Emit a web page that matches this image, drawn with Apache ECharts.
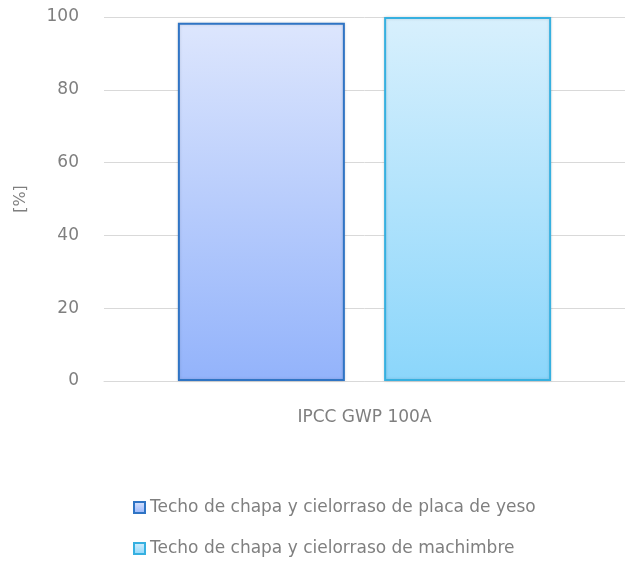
<!DOCTYPE html>
<html>
<head>
<meta charset="utf-8">
<script src="https://cdn.jsdelivr.net/npm/echarts@6/dist/echarts.min.js"></script>
<style>
  html, body { margin: 0; padding: 0; background: #fff; }
  #chart { width: 625px; height: 562px; }
</style>
</head>
<body>
<div id="chart"></div>
<script>
var categories = ["IPCC GWP 100A"];
var seriesNames = [
  "Techo de chapa y cielorraso de placa de yeso",
  "Techo de chapa y cielorraso de machimbre"
];
var placaValues = [98.4];
var machimbreValues = [100];
var yTicks = [0, 20, 40, 60, 80, 100];

var myChart = echarts.init(document.getElementById("chart"));

function grad(top, bottom) {
  return new echarts.graphic.LinearGradient(0, 0, 0, 1, [
    { offset: 0, color: top },
    { offset: 1, color: bottom }
  ]);
}

myChart.setOption({
  animation: false,
  textStyle: { fontFamily: "DejaVu Sans" },
  grid: { left: 104, top: 17, width: 527, bottom: 181 },
  legend: {
    orient: "vertical",
    left: 128,
    top: 494,
    height: 68,
    itemWidth: 11,
    itemHeight: 11,
    itemGap: 24,
    icon: "rect",
    textStyle: { color: "#7f7f7f", fontSize: 17 },
    data: seriesNames
  },
  xAxis: {
    type: "category",
    data: categories,
    axisLine: { lineStyle: { color: "#d9d9d9", width: 1 } },
    axisTick: { show: false },
    axisLabel: { color: "#7f7f7f", fontSize: 17, margin: 28 }
  },
  yAxis: {
    type: "value",
    min: yTicks[0],
    max: yTicks[yTicks.length - 1],
    interval: 20,
    name: "[%]",
    nameLocation: "middle",
    nameGap: 75,
    nameTextStyle: { color: "#7f7f7f", fontSize: 16 },
    axisLine: { show: false },
    axisTick: { show: false },
    axisLabel: { color: "#7f7f7f", fontSize: 17, margin: 25 },
    splitLine: { lineStyle: { color: "#d9d9d9", width: 1 } }
  },
  series: [
    {
      name: seriesNames[0],
      type: "bar",
      data: placaValues,
      barWidth: 167,
      barGap: "23.5%",
      itemStyle: {
        color: grad("#dde6fd", "#93b3fb"),
        borderColor: "#2f74c4",
        borderWidth: 2,
        shadowColor: "rgba(0,0,0,0.15)",
        shadowBlur: 3
      }
    },
    {
      name: seriesNames[1],
      type: "bar",
      data: machimbreValues,
      barWidth: 167,
      itemStyle: {
        color: grad("#d8f0fd", "#8bd6fb"),
        borderColor: "#36b0e0",
        borderWidth: 2,
        shadowColor: "rgba(0,0,0,0.15)",
        shadowBlur: 3
      }
    }
  ]
});
</script>
</body>
</html>
